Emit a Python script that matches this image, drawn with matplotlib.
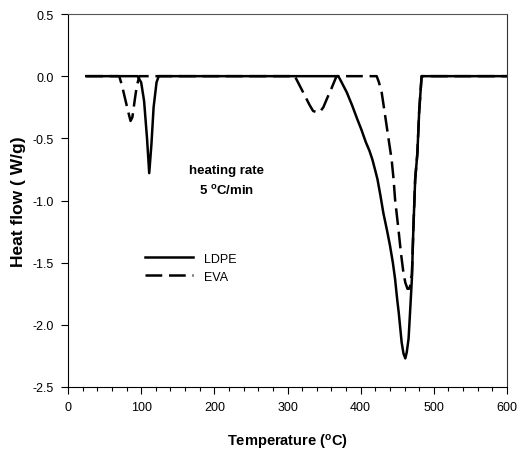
import matplotlib.pyplot as plt
from matplotlib.ticker import MultipleLocator
from matplotlib.lines import Line2D

plt.rcParams['font.family'] = ['Liberation Sans', 'DejaVu Sans']
plt.rcParams['mathtext.default'] = 'regular'

# LDPE (solid)
ldpe_t = [25, 95, 100, 104, 108, 111, 114, 117, 121, 124, 369.5, 374, 381, 388, 395, 401, 407,
          412, 416, 420, 423, 427, 431, 436, 440, 444, 447, 450, 452, 454, 456, 458.5, 461,
          463, 465.5, 467.5, 470, 472, 474.5, 477.5, 480, 483.3, 600]
ldpe_q = [0, 0, -0.05, -0.2, -0.5, -0.78, -0.55, -0.25, -0.05, 0, 0, -0.05, -0.13, -0.23, -0.34, -0.43, -0.53,
          -0.6, -0.67, -0.76, -0.83, -0.96, -1.1, -1.24, -1.36, -1.5, -1.63, -1.8, -1.9, -2.02, -2.14, -2.23, -2.27,
          -2.22, -2.11, -1.9, -1.63, -1.23, -0.83, -0.62, -0.28, 0, 0]

# EVA (dashed)
eva_t = [25, 70, 74, 78, 82, 85.5, 88, 91.5, 94, 97.5, 310, 317, 324, 330, 335, 340, 344,
         349, 354, 360, 367, 421.9, 425, 428.7, 432, 435.5, 439, 442.3, 445, 447, 449.5,
         451.6, 455, 458.4, 461, 464, 466, 467.6, 469, 470, 472, 474.5, 477.5, 480, 483.3, 600]
eva_q = [0, 0, -0.08, -0.18, -0.28, -0.36, -0.33, -0.18, -0.08, 0, 0, -0.08, -0.16, -0.23, -0.28, -0.29, -0.29,
         -0.25, -0.18, -0.1, 0, 0, -0.05, -0.13, -0.26, -0.4, -0.54, -0.67, -0.83, -0.99, -1.12,
         -1.23, -1.42, -1.58, -1.66, -1.71, -1.71, -1.69, -1.62, -1.6, -1.23, -0.83, -0.62, -0.28, 0, 0]

fig = plt.figure(figsize=(5.19, 4.52), dpi=100)
ax = fig.add_axes([68 / 519, 1 - 388 / 452, (507 - 68) / 519, (388 - 15) / 452])

dash = (0, (6.7, 2.7))
ax.plot(ldpe_t, ldpe_q, c='k', lw=1.8)
ax.plot(eva_t, eva_q, c='k', lw=1.8, ls=dash)

ax.set_xlim(0, 600)
ax.set_ylim(-2.5, 0.5)
ax.xaxis.set_major_locator(MultipleLocator(100))
ax.xaxis.set_minor_locator(MultipleLocator(20))
ax.set_yticks([0.5, 0.0, -0.5, -1.0, -1.5, -2.0, -2.5])
ax.set_yticklabels(['0.5', '0.0', '-0.5', '-1.0', '-1.5', '-2.0', '-2.5'])
ax.tick_params(which='major', direction='out', length=5, width=0.8, labelsize=9, pad=5)
ax.tick_params(which='minor', direction='out', length=3, width=0.8)
for s in ax.spines.values():
    s.set_linewidth(0.8)
ax.spines['top'].set_color('#555555')
ax.spines['right'].set_color('#333333')

ax.set_xlabel('Temperature ($^o$C)', fontsize=10.5, fontweight='bold', labelpad=14)
ax.set_ylabel('Heat flow ( W/g)', fontsize=12.5, fontweight='bold', labelpad=5)

ax.text(217, -0.755, 'heating rate', ha='center', va='center', fontsize=9.5, fontweight='bold')
ax.text(217, -0.915, '5 $^o$C/min', ha='center', va='center', fontsize=9.5, fontweight='bold')

handles = [Line2D([], [], c='k', lw=1.8),
           Line2D([], [], c='k', lw=1.8, ls=dash)]
ax.legend(handles, ['LDPE', 'EVA'], loc='center left', bbox_to_anchor=(0.1496, 0.32),
          frameon=False, fontsize=9, handlelength=3.84, handletextpad=0.88, labelspacing=0.47)

fig.savefig('out.png', dpi=100)
